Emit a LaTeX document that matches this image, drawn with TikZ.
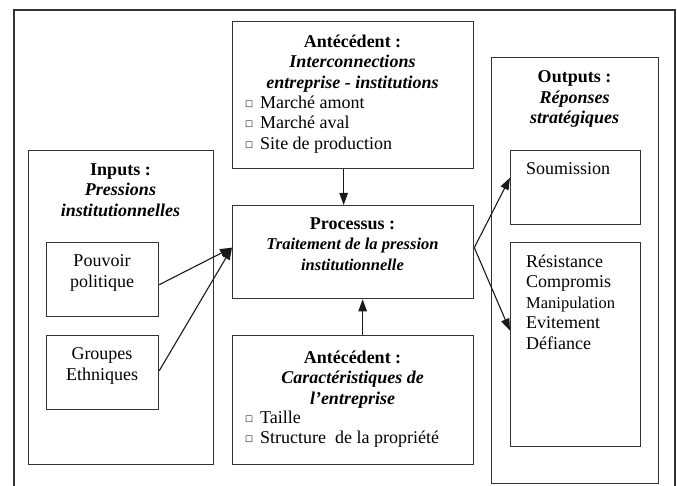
\documentclass[tikz,border=0pt]{standalone}
\usepackage{fontspec}
\setmainfont{Liberation Serif}
\newfontfamily\symfont{DejaVu Sans}
\usepackage{tikz}
\usetikzlibrary{arrows.meta}

\newcommand{\bigtxt}{\fontsize{18}{20.5}\selectfont}
\newcommand{\smalltxt}{\fontsize{16.5}{20}\selectfont}
\newcommand{\puce}{{\symfont\fontsize{8.5}{8}\selectfont\raisebox{2pt}{□}}\hspace{7pt}}

\begin{document}
\begin{tikzpicture}[x=1pt, y=-1pt,
  box/.style={draw=black!80, line width=1.3pt, anchor=north west, inner sep=0pt},
  txt/.style={inner sep=0pt, anchor=north, align=center, font=\bigtxt},
  lst/.style={inner sep=0pt, anchor=north west, align=left, font=\bigtxt},
  arr/.style={draw=black!90, line width=1.1pt, -{Triangle[length=12pt,width=8.5pt]}}]
  \useasboundingbox (0,0) rectangle (677,486);
  \draw[black!80, line width=1.3pt] (14,486) -- (14,10) -- (675,10) -- (675,486);

  \node[box, minimum width=241pt, minimum height=147pt] (ante1) at (232,21) {};
  \node[txt] (ante1ttl) at (352.5,34.5) {\textbf{Antécédent :}\\ \textbf{\textit{Interconnections}}\\ \textbf{\textit{entreprise - institutions}}};
  \node[lst] (ante1lst) at (245,95.5) {\puce Marché amont\\ \puce Marché aval\\ \puce Site de production};

  \node[box, minimum width=241pt, minimum height=93pt] (proc) at (232,205) {};
  \node[txt] (procttl) at (352.5,217.5) {\textbf{Processus :}\\ {\smalltxt\textbf{\textit{Traitement de la pression}}}\\ {\smalltxt\textbf{\textit{institutionnelle}}}};

  \node[box, minimum width=241pt, minimum height=129pt] (ante2) at (232,335) {};
  \node[txt] (ante2ttl) at (352.5,350.5) {\textbf{Antécédent :}\\ \textbf{\textit{Caractéristiques de}}\\ \textbf{\textit{l’entreprise}}};
  \node[lst] (ante2lst) at (245,410.5) {\puce Taille\\ \puce Structure\ \ de la propriété};

  \node[box, minimum width=185pt, minimum height=314pt] (inputs) at (28,150) {};
  \node[txt] (inputsttl) at (120.5,163.5) {\textbf{Inputs :}\\ \textbf{\textit{Pressions}}\\ \textbf{\textit{institutionnelles}}};
  \node[box, minimum width=112pt, minimum height=74pt] (pouv) at (46,242) {};
  \node[txt] (pouvtxt) at (102,254.5) {Pouvoir\\ politique};
  \node[box, minimum width=112pt, minimum height=74pt] (grp) at (46,335) {};
  \node[txt] (grptxt) at (102,347.5) {Groupes\\ Ethniques};

  \node[box, minimum width=167pt, minimum height=426pt] (outputs) at (491,57) {};
  \node[txt] (outputsttl) at (574.5,70.5) {\textbf{Outputs :}\\ \textbf{\textit{Réponses}}\\ \textbf{\textit{stratégiques}}};
  \node[box, minimum width=130pt, minimum height=74pt] (soum) at (510,150) {};
  \node[lst] (soumtxt) at (526,162.5) {Soumission};
  \node[box, minimum width=130pt, minimum height=204pt] (resi) at (510,242) {};
  \node[lst] (resitxt) at (526,254.5) {Résistance\\ Compromis\\ {\smalltxt Manipulation}\\ Evitement\\ Défiance};

  \coordinate (procin) at ([yshift=4.5pt]proc.west);
  \coordinate (procout) at ([yshift=4.5pt]proc.east);
  \draw[arr] ([xshift=-9.5pt]ante1.south) -- ([xshift=-9.5pt]proc.north);
  \draw[arr] ([xshift=9.5pt]ante2.north) -- ([xshift=9.5pt]proc.south);
  \draw[arr] ([yshift=-5pt]pouv.east) -- (procin);
  \draw[arr] ([yshift=2pt]grp.east) -- (procin);
  \draw[arr] (procout) -- ([yshift=10pt]soum.west);
  \draw[arr] (procout) -- ([yshift=14pt]resi.west);
\end{tikzpicture}
\end{document}
